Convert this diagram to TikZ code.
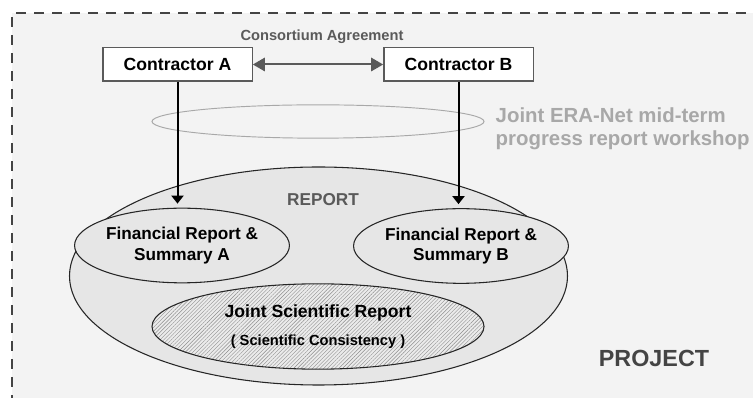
\documentclass[tikz,border=0pt]{standalone}
\usepackage{fontspec}
\setmainfont{Liberation Sans}
\usetikzlibrary{arrows.meta,shapes.geometric,patterns.meta}

\definecolor{framegray}{HTML}{444444}
\definecolor{bggray}{HTML}{F3F3F3}
\definecolor{linegray}{HTML}{5A5A5A}
\definecolor{lightgray}{HTML}{A8A8A8}
\definecolor{reportgray}{HTML}{E6E6E6}
\definecolor{hatchgray}{HTML}{8C8C8C}

\begin{document}
\begin{tikzpicture}[
        x=0.75pt, y=-0.75pt,
        box/.style={
            rectangle,
            draw=linegray,
            fill=white,
            line width=1pt,
            minimum width=112pt,
            minimum height=25pt,
            font=\bfseries\fontsize{13.2}{15}\selectfont
        },
        oval/.style={
            ellipse,
            draw=black!85,
            line width=0.8pt,
            inner sep=0pt,
            align=center
        },
        fin/.style={
            oval,
            fill=reportgray,
            minimum width=131pt,
            minimum height=56pt,
            font=\bfseries\fontsize{12.9}{15.5}\selectfont
        },
        >=stealth
    ]

    % Canvas and project frame
    \useasboundingbox (0,0) rectangle (753,398);
    \fill[bggray] (12,13) rectangle (760,405);
    \draw[framegray, line width=2pt, dash pattern=on 7.5pt off 6pt]
        (12,405) -- (12,13) -- (760,13);

    % Report area
    \node[oval, fill=reportgray, minimum width=373.5pt, minimum height=163.5pt] (R) at (318.5,276) {};
    \node[text=linegray, font=\bfseries\fontsize{12.9}{15}\selectfont] (Rl) at (323,200) {REPORT};

    \node[fin] (FA) at (182,245.5) {Financial Report \&\\Summary A};
    \node[fin] (FB) at (461,246) {Financial Report \&\\Summary B};

    \node[oval, minimum width=249pt, minimum height=64pt,
        preaction={fill=reportgray!80!white},
        pattern={Lines[angle=45,distance=2pt,line width=0.3pt]}, pattern color=hatchgray] (J) at (318,326.5)
        {\bfseries\fontsize{13.2}{15}\selectfont Joint Scientific Report\\[9pt]
         \bfseries\fontsize{11}{13}\selectfont ( Scientific Consistency )};

    % Workshop ring
    \node[ellipse, draw=lightgray, line width=0.7pt, minimum width=249pt, minimum height=25pt] (W) at (318,121.5) {};
    \node[text=lightgray, align=left, anchor=west, font=\bfseries\fontsize{15.3}{17}\selectfont] (Wl) at (491,129)
        {Joint ERA-Net mid-term\\progress report workshop};

    % Main boxes
    \node[box] (A) at (177.5,64.5) {Contractor A};
    \node[box] (B) at (458.5,64.5) {Contractor B};
    \node[text=linegray, font=\bfseries\fontsize{11}{13}\selectfont] (CA) at (322,37) {Consortium Agreement};

    % Connections
    \draw[{Triangle[width=10pt,length=9pt]}-{Triangle[width=10pt,length=9pt]}, linegray, line width=1.5pt]
        (A.east) -- (B.west);
    \draw[-{Triangle[width=9pt,length=6pt]}, line width=1.5pt, shorten >=3pt] (A.south) -- (A.south |- FA.north);
    \draw[-{Triangle[width=9pt,length=6pt]}, line width=1.5pt, shorten >=3pt] (B.south) -- (B.south |- FB.north);

    \node[text=framegray, font=\bfseries\fontsize{17.5}{20}\selectfont] (P) at (654,358) {PROJECT};

\end{tikzpicture}
\end{document}
